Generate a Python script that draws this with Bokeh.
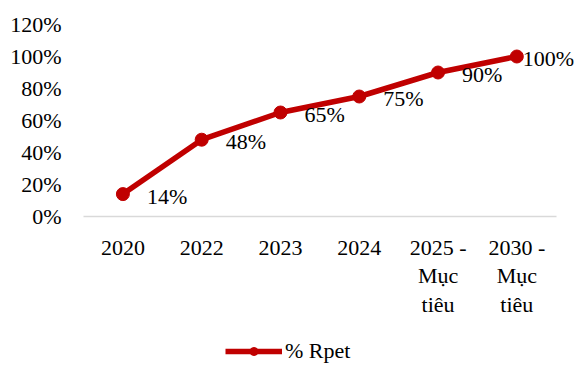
from bokeh.plotting import figure
from bokeh.layouts import column
from bokeh.models import ColumnDataSource, LabelSet, Legend, LegendItem, NumeralTickFormatter, FixedTicker, Range1d
from bokeh.embed import file_html
from bokeh.resources import INLINE

categories = ["2020", "2022", "2023", "2024", "2025 -\nMục\ntiêu", "2030 -\nMục\ntiêu"]
values = [0.14, 0.48, 0.65, 0.75, 0.90, 1.00]
labels = ["14%", "48%", "65%", "75%", "90%", "100%"]
series_name = "% Rpet"
y_ticks = [0, 0.2, 0.4, 0.6, 0.8, 1.0, 1.2]

FONT = "Liberation Serif"
RED = "#C00000"

xs = list(range(len(categories)))
src = ColumnDataSource(dict(x=xs, y=values, lab=labels))
src_main = ColumnDataSource(dict(x=xs[:-1], y=values[:-1], lab=labels[:-1]))
src_last = ColumnDataSource(dict(x=xs[-1:], y=values[-1:], lab=labels[-1:]))

p = figure(frame_width=494, frame_height=192,
           x_range=Range1d(-0.5, 5.77), y_range=Range1d(0, 1.2),
           output_backend="svg", toolbar_location=None,
           min_border_left=83, min_border_right=0, min_border_top=24, min_border_bottom=122)
p.outline_line_color = None
p.grid.grid_line_color = None

ln = p.line("x", "y", source=src, line_color=RED, line_width=5.5)
sc = p.scatter("x", "y", source=src, size=13, fill_color=RED, line_color=RED)

for s, off in ((src_main, 24), (src_last, 6)):
    p.add_layout(LabelSet(x="x", y="y", text="lab", source=s, x_offset=off, y_offset=-2,
                          text_font=FONT, text_font_size="22px", text_color="black",
                          text_baseline="middle", text_align="left"))

p.yaxis.ticker = FixedTicker(ticks=y_ticks)
p.yaxis.formatter = NumeralTickFormatter(format="0%")
p.yaxis.axis_line_color = None
p.yaxis.major_tick_line_color = None
p.yaxis.minor_tick_line_color = None
p.yaxis.major_tick_out = 0
p.yaxis.minor_tick_out = 0
p.yaxis.major_label_standoff = 22
p.yaxis.major_label_text_font = FONT
p.yaxis.major_label_text_font_size = "22px"
p.yaxis.major_label_text_color = "black"

p.xaxis.ticker = FixedTicker(ticks=xs)
p.xaxis.major_label_overrides = {i: c for i, c in zip(xs, categories)}
p.xaxis.bounds = (-0.5, len(categories) - 0.5)
p.xaxis.axis_line_color = "#D9D9D9"
p.xaxis.axis_line_width = 1.5
p.xaxis.major_tick_line_color = None
p.xaxis.minor_tick_line_color = None
p.xaxis.major_tick_out = 0
p.xaxis.minor_tick_out = 0
p.xaxis.major_label_standoff = 18
p.xaxis.major_label_text_font = FONT
p.xaxis.major_label_text_font_size = "22px"
p.xaxis.major_label_text_color = "black"
p.xaxis.major_label_text_line_height = 1.15

# legend strip (same data, ranges set so the marks fall outside the strip)
p2 = figure(width=577, height=26, output_backend="svg", toolbar_location=None,
            x_range=Range1d(100, 101), y_range=Range1d(100, 101),
            min_border=0, x_axis_type=None, y_axis_type=None)
p2.outline_line_color = None
p2.grid.grid_line_color = None
l2 = p2.line("x", "y", source=src, line_color=RED, line_width=5.5)
s2 = p2.scatter("x", "y", source=src, size=13, fill_color=RED, line_color=RED)
legend = Legend(items=[LegendItem(label=series_name, renderers=[l2, s2])],
                orientation="horizontal", location=(142, 0),
                label_text_font=FONT, label_text_font_size="22px", label_text_color="black",
                glyph_width=57, glyph_height=20, border_line_color=None,
                background_fill_alpha=0, padding=0, margin=0, label_standoff=3,
                label_height=20)
p2.add_layout(legend, "center")

layout = column(p, p2, spacing=0)
open("out.html", "w").write(file_html(layout, INLINE))
